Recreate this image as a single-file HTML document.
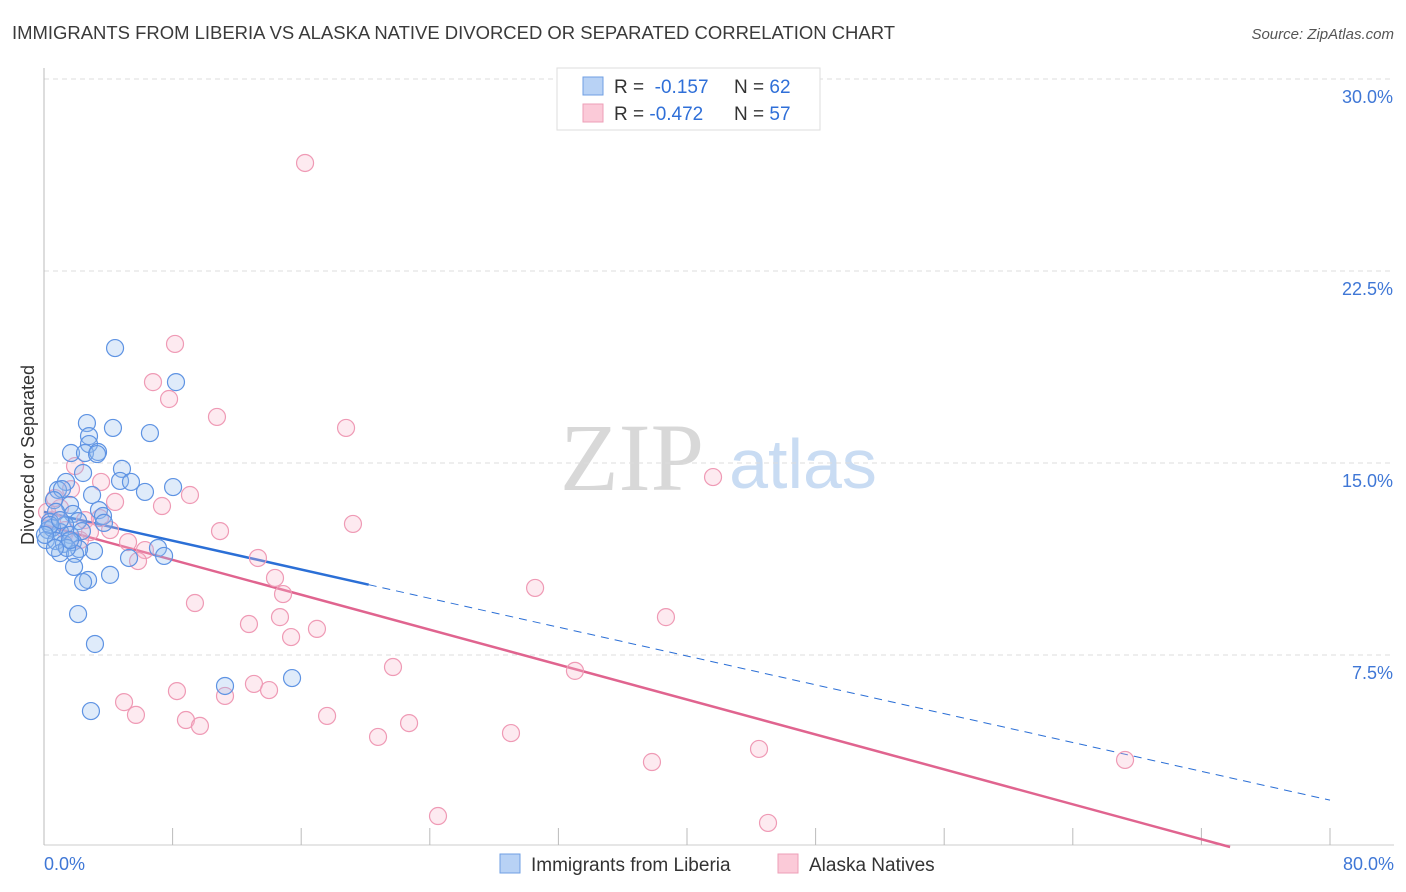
<!DOCTYPE html>
<html><head><meta charset="utf-8"><style>
body{margin:0;background:#fff;font-family:"Liberation Sans",sans-serif;}
#wrap{position:relative;width:1406px;height:892px;overflow:hidden;}
</style></head><body>
<div id="wrap">
<svg id="svg" width="1406" height="892" xmlns="http://www.w3.org/2000/svg">
<text x="12" y="39" font-size="18" fill="#3a3a3a" textLength="883" lengthAdjust="spacingAndGlyphs">IMMIGRANTS FROM LIBERIA VS ALASKA NATIVE DIVORCED OR SEPARATED CORRELATION CHART</text>
<text x="1394" y="39" font-size="15" fill="#555" font-style="italic" text-anchor="end">Source: ZipAtlas.com</text>
<text x="34" y="455" font-size="18" fill="#333" text-anchor="middle" transform="rotate(-90 34 455)">Divorced or Separated</text>
<g>
<text x="632" y="490" font-size="96" font-family="Liberation Serif,serif" fill="#d8d8d8" text-anchor="middle">ZIP</text>
<text x="803" y="488" font-size="70" fill="#c9dcf3" text-anchor="middle">atlas</text>
</g>
<g id="grid"></g><g id="axes"></g><g id="lines"></g><g id="pts"></g>
<g>
<rect x="557" y="68" width="263" height="62" fill="#fff" stroke="#ddd"/>
<rect x="583" y="77" width="20" height="18" fill="#b8d2f5" stroke="#6f9fe3"/>
<rect x="583" y="104" width="20" height="18" fill="#fbcad8" stroke="#ee9fb7"/>
<text x="614" y="93" font-size="19" fill="#333">R = <tspan fill="#2f6fd8">&#160;-0.157</tspan><tspan x="734">N = </tspan><tspan fill="#2f6fd8">62</tspan></text>
<text x="614" y="120" font-size="19" fill="#333">R = <tspan fill="#2f6fd8">-0.472</tspan><tspan x="734">N = </tspan><tspan fill="#2f6fd8">57</tspan></text>
</g>
<g>
<rect x="500" y="854" width="20" height="19" fill="#b8d2f5" stroke="#6f9fe3"/>
<text x="531" y="871" font-size="19" fill="#333">Immigrants from Liberia</text>
<rect x="778" y="854" width="20" height="19" fill="#fbcad8" stroke="#ee9fb7"/>
<text x="809" y="871" font-size="19" fill="#333">Alaska Natives</text>
</g>
</svg>
</div>
<script>
const blueX=[4.42,8.21,2.67,4.29,6.59,2.80,2.80,1.68,2.55,3.36,3.30,4.85,2.43,1.37,4.73,5.41,8.03,6.28,2.99,0.87,1.12,0.62,1.62,3.42,3.67,1.80,0.75,0.37,2.12,1.31,3.73,0.25,1.00,0.50,0.12,1.62,2.36,0.75,1.24,1.80,3.11,2.18,1.00,1.93,7.09,7.47,5.29,4.11,2.74,2.43,1.87,2.12,3.17,2.92,11.26,15.43,1.43,1.62,0.37,1.00,0.06,0.68];
const blueY=[19.49,18.16,16.56,16.37,16.17,16.05,15.74,15.39,15.39,15.43,15.35,14.77,14.61,14.26,14.30,14.26,14.06,13.87,13.75,13.95,13.98,13.55,13.36,13.16,12.93,13.01,13.09,12.70,12.73,12.58,12.66,12.38,12.30,12.46,11.99,12.19,12.34,11.95,11.84,11.91,11.56,11.64,11.48,11.45,11.68,11.37,11.29,10.63,10.43,10.35,10.94,9.10,7.93,5.31,6.29,6.60,11.68,11.99,12.58,12.77,12.19,11.68];
const pinkX=[16.24,8.15,6.78,7.78,10.76,18.79,41.62,1.93,3.55,1.68,9.08,7.34,4.42,19.22,10.95,2.55,1.00,0.68,3.48,2.86,5.23,6.28,13.31,5.85,14.37,14.87,30.55,9.39,38.69,12.75,14.68,16.98,15.37,21.71,33.03,8.27,13.06,14.00,11.26,4.98,5.72,8.83,9.70,17.61,22.71,20.78,29.05,44.48,37.82,67.25,24.51,45.04,1.31,0.50,2.24,4.11,0.19];
const pinkY=[26.72,19.65,18.16,17.50,16.80,16.37,14.45,14.88,14.26,13.98,13.75,13.32,13.48,12.62,12.34,12.77,13.24,13.63,12.85,12.30,11.91,11.60,11.29,11.17,10.51,9.88,10.12,9.53,8.98,8.71,8.98,8.52,8.20,7.03,6.88,6.09,6.37,6.13,5.90,5.66,5.16,4.96,4.73,5.12,4.84,4.30,4.45,3.83,3.32,3.40,1.21,0.94,12.38,12.77,11.99,12.38,13.09];
const yTicks=[7.5,15.0,22.5,30.0];
const yTickLabels=["7.5%","15.0%","22.5%","30.0%"];
const xTickLabels=["0.0%","80.0%"];
const blueTrend=[13.09,1.83]; const blueSolidEnd=20.2;
const pinkTrend=[12.58,-1.06];
const X0=44,X1=1330,Y0=847,Y1=79;
const sx=v=>X0+(v/80)*(X1-X0), sy=v=>Y0-(v/30)*(Y0-Y1);
const NS="http://www.w3.org/2000/svg";
function mk(t,a,p){const e=document.createElementNS(NS,t);for(const k in a)e.setAttribute(k,a[k]);p.appendChild(e);return e;}
const grid=document.getElementById('grid'),axes=document.getElementById('axes'),lines=document.getElementById('lines'),pts=document.getElementById('pts');
yTicks.forEach((t,i)=>{
 const l=mk('line',{x1:X0,x2:1394,y1:sy(t),y2:sy(t),stroke:'#ddd','stroke-dasharray':'5,4'},grid);
 
 
 const tx=mk('text',{x:1393,y:sy(t)+24,'font-size':18,fill:'#3f77d6','text-anchor':'end'},axes);
 tx.textContent=yTickLabels[i];
 
 
});
const la=mk('line',{x1:X0,x2:X0,y1:68,y2:845,stroke:'#bbb'},axes);


const lb=mk('line',{x1:X0,x2:1394,y1:845,y2:845,stroke:'#ccc'},axes);


for(let i=0;i<=10;i++){const x=sx(i*8);
 const tk=mk('line',{x1:x,x2:x,y1:828,y2:845,stroke:'#bbb'},axes);
 
 }
[[0,'start',44],[80,'end',1394]].forEach((d,i)=>{
 const t=mk('text',{x:d[2],y:870,'font-size':18,fill:'#3f77d6','text-anchor':d[1]},axes);
 t.textContent=xTickLabels[i];
 
 });
const bAt=x=>blueTrend[0]+(blueTrend[1]-blueTrend[0])*x/80;
const pAt=x=>pinkTrend[0]+(pinkTrend[1]-pinkTrend[0])*x/80;
const pz=-pinkTrend[0]/((pinkTrend[1]-pinkTrend[0])/80);
const pl=mk('line',{x1:sx(0),y1:sy(pAt(0)),x2:sx(pz),y2:sy(0),stroke:'#e0648f','stroke-width':2.5},lines);


const bl=mk('line',{x1:sx(0),y1:sy(bAt(0)),x2:sx(blueSolidEnd),y2:sy(bAt(blueSolidEnd)),stroke:'#2b6fd6','stroke-width':2.5},lines);


const bd=mk('line',{x1:sx(blueSolidEnd),y1:sy(bAt(blueSolidEnd)),x2:sx(80),y2:sy(bAt(80)),stroke:'#2b6fd6','stroke-width':1,'stroke-dasharray':'8,6'},lines);


pinkX.forEach((x,i)=>{const c=mk('circle',{cx:sx(x),cy:sy(pinkY[i]),r:8.5,fill:'rgba(248,185,205,0.3)',stroke:'#ef9ab5','stroke-width':1.2},pts);
 
 });
blueX.forEach((x,i)=>{const c=mk('circle',{cx:sx(x),cy:sy(blueY[i]),r:8.5,fill:'rgba(150,190,240,0.3)',stroke:'#5e93e3','stroke-width':1.2},pts);
 
 });
</script>
</body></html>
